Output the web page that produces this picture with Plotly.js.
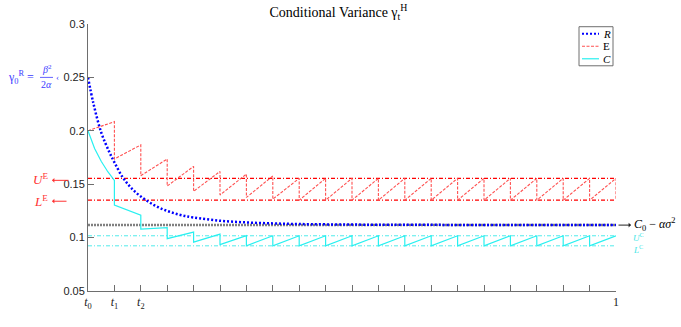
<!DOCTYPE html>
<html>
<head>
<meta charset="utf-8">
<script src="https://cdn.plot.ly/plotly-3.0.1.min.js"></script>
<style>
  html, body { margin: 0; padding: 0; background: #fff; }
  #chart { width: 681px; height: 327px; }
</style>
</head>
<body>
<div id="chart"></div>
<script>
// drop times (every 0.05 up to 1)
var dropT = [0.05, 0.1, 0.15, 0.2, 0.25, 0.3, 0.35, 0.4, 0.45, 0.5,
             0.55, 0.6, 0.65, 0.7, 0.75, 0.8, 0.85, 0.9, 0.95, 1.0];

// R : conditional variance, smooth decay
var rT = [0, 0.01, 0.025, 0.04, 0.05, 0.065, 0.08, 0.1, 0.125, 0.15, 0.175,
          0.2, 0.25, 0.3, 0.35, 0.4, 0.5, 0.6, 0.8, 1.0];
var rV = [0.25, 0.2262, 0.1985, 0.1805, 0.1705, 0.157, 0.1475, 0.1385, 0.1305,
          0.125, 0.1212, 0.1188, 0.1158, 0.1142, 0.1133, 0.1127, 0.1122, 0.112,
          0.1118, 0.1117];

// E : sawtooth, start value then peak / low at each drop time
var eStart = 0.2;
var ePeak = [0.2086, 0.1868, 0.1736, 0.1667, 0.162, 0.1595, 0.1577, 0.1555, 0.1555, 0.1555,
             0.1555, 0.1555, 0.1555, 0.1555, 0.1555, 0.1555, 0.1555, 0.1555, 0.1555, 0.1555];
var eLow  = [0.1736, 0.158, 0.1483, 0.1433, 0.1399, 0.1376, 0.136, 0.135, 0.135, 0.135,
             0.135, 0.135, 0.135, 0.135, 0.135, 0.135, 0.135, 0.135, 0.135, 0.135];

// C : first interval curve, then low (start) / high (end) per interval
var cFirstT = [0, 0.0125, 0.025, 0.0375, 0.05];
var cFirstV = [0.2, 0.1835, 0.1715, 0.1617, 0.1535];
var cLow  = [0.1305, 0.108, 0.099, 0.0958, 0.0935, 0.0923, 0.0923, 0.0923, 0.0923, 0.0923,
             0.0923, 0.0923, 0.0923, 0.0923, 0.0923, 0.0923, 0.0923, 0.0923, 0.0923];
var cHigh = [0.1211, 0.1093, 0.1052, 0.1032, 0.1019, 0.1017, 0.1017, 0.1017, 0.1017, 0.1017,
             0.1017, 0.1017, 0.1017, 0.1017, 0.1017, 0.1017, 0.1017, 0.1017, 0.1017];

// bounds
var UE = 0.1555, LE = 0.135;
var UC = 0.1017, LC = 0.0923;
var C0 = 0.1117;

var xTicks = [0, 0.05, 0.1, 0.15, 0.2, 0.25, 0.3, 0.35, 0.4, 0.45, 0.5,
              0.55, 0.6, 0.65, 0.7, 0.75, 0.8, 0.85, 0.9, 0.95, 1];
var xLabels = ['<i>t</i><sub>0</sub>', '<i>t</i><sub>1</sub>', '<i>t</i><sub>2</sub>',
               ' ', ' ', ' ', ' ', ' ', ' ', ' ', ' ', ' ', ' ', ' ', ' ', ' ', ' ', ' ', ' ', ' ', '1'];
var yTicks = [0.05, 0.1, 0.15, 0.2, 0.25, 0.3];
var yLabels = ['0.05', '0.1', '0.15', '0.2', '0.25', '0.3'];

// series names and colours
var names = ['<i>R</i>', 'E', '<i>C</i>'];
var colR = 'rgb(0,0,255)', colE = 'rgb(255,80,80)', colC = 'rgb(40,240,240)';

// build sawtooth paths
var eX = [0], eY = [eStart];
for (var i = 0; i < dropT.length; i++) {
  eX.push(dropT[i], dropT[i]);
  eY.push(ePeak[i], eLow[i]);
}
var cX = cFirstT.slice(), cY = cFirstV.slice();
for (var j = 0; j < cLow.length; j++) {
  cX.push(dropT[j], dropT[j + 1]);
  cY.push(cLow[j], cHigh[j]);
}

function hline(v, color, dash, width) {
  return {
    x: [0, 1], y: [v, v], type: 'scatter', mode: 'lines', showlegend: false,
    hoverinfo: 'skip', line: {color: color, dash: dash, width: width}
  };
}

var styleR = {color: colR, dash: '2px,2px', width: 2.5};
var styleE = {color: colE, dash: '3px,1.5px', width: 1.1};
var styleC = {color: colC, width: 1.2};

var data = [
  hline(UE, 'rgb(255,0,0)', '4px,2px,1px,2px', 1.2),
  hline(LE, 'rgb(255,0,0)', '4px,2px,1px,2px', 1.2),
  hline(UC, 'rgb(80,235,235)', '4px,2px,1px,2px', 1),
  hline(LC, 'rgb(80,235,235)', '4px,2px,1px,2px', 1),
  hline(C0, 'rgb(128,128,128)', '2px,1px', 2.5),
  {x: rT, y: rV, type: 'scatter', mode: 'lines', name: names[0], showlegend: false,
   line: Object.assign({shape: 'spline'}, styleR)},
  {x: eX, y: eY, type: 'scatter', mode: 'lines', name: names[1], showlegend: false, line: styleE},
  {x: cX, y: cY, type: 'scatter', mode: 'lines', name: names[2], showlegend: false, line: styleC}
];

var serif = 'Liberation Serif, DejaVu Serif, serif';
var blueTxt = 'rgb(60,60,255)';

// pixel -> paper helpers (plot area 88..616 x 24..291)
function px(x) { return (x - 88) / 528; }
function py(y) { return (290.7 - y) / 266.4; }

var shapes = [
  {type: 'line', xref: 'paper', yref: 'y', x0: px(40), x1: px(53), y0: 0.25, y1: 0.25,
   line: {color: blueTxt, width: 0.8}},
  // legend box
  {type: 'rect', xref: 'paper', yref: 'paper', x0: px(579), x1: px(613), y0: py(66), y1: py(27),
   line: {color: 'rgb(110,110,110)', width: 1}, fillcolor: '#fff'}
];
var annotations = [
  {xref: 'paper', yref: 'y', x: px(36), y: 0.25, xanchor: 'right', yanchor: 'middle', showarrow: false,
   text: 'γ<sub>0</sub><sup>R</sup> =', font: {family: serif, size: 12, color: blueTxt}},
  {xref: 'paper', yref: 'y', x: px(46.5), y: 0.25, yshift: 8, xanchor: 'center', yanchor: 'middle', showarrow: false,
   text: '<i>β</i><sup>2</sup>', font: {family: serif, size: 10, color: blueTxt}},
  {xref: 'paper', yref: 'y', x: px(46.5), y: 0.25, yshift: -7, xanchor: 'center', yanchor: 'middle', showarrow: false,
   text: '2<i>α</i>', font: {family: serif, size: 10, color: blueTxt}},
  {xref: 'paper', yref: 'y', x: px(57), y: 0.25, xanchor: 'center', yanchor: 'middle', showarrow: false,
   text: '‹', font: {family: serif, size: 9, color: blueTxt}},
  {xref: 'paper', yref: 'y', x: px(50), y: UE, yshift: -1, xanchor: 'right', yanchor: 'middle', showarrow: false,
   text: '<i>U</i><sup>E</sup>', font: {family: serif, size: 13, color: 'rgb(255,50,50)'}},
  {xref: 'paper', yref: 'y', x: px(52), y: UE, yshift: -2, text: '', showarrow: true,
   ax: 18, ay: 0, arrowhead: 1, arrowsize: 0.8, arrowwidth: 1, arrowcolor: 'rgb(255,50,50)'},
  {xref: 'paper', yref: 'y', x: px(50), y: LE, yshift: -1, xanchor: 'right', yanchor: 'middle', showarrow: false,
   text: '<i>L</i><sup>E</sup>', font: {family: serif, size: 13, color: 'rgb(255,50,50)'}},
  {xref: 'paper', yref: 'y', x: px(52), y: LE, yshift: -1, text: '', showarrow: true,
   ax: 16, ay: 0, arrowhead: 1, arrowsize: 0.8, arrowwidth: 1, arrowcolor: 'rgb(255,50,50)'},
  {xref: 'paper', yref: 'y', x: px(631), y: C0, text: '', showarrow: true,
   ax: -14, ay: 0, arrowhead: 1, arrowsize: 0.8, arrowwidth: 1, arrowcolor: '#222'},
  {xref: 'paper', yref: 'y', x: px(632), y: C0, yshift: 1, xanchor: 'left', yanchor: 'middle', showarrow: false,
   text: '<i>C</i><sub>0</sub> − <i>ασ</i><sup>2</sup>', font: {family: serif, size: 12, color: '#000'}},
  {xref: 'paper', yref: 'y', x: px(631), y: UC, yshift: -1, xanchor: 'left', yanchor: 'middle', showarrow: false,
   text: '<i>U</i><sup>C</sup>', font: {family: serif, size: 9, color: 'rgb(60,230,230)'}},
  {xref: 'paper', yref: 'y', x: px(631), y: LC, yshift: -3, xanchor: 'left', yanchor: 'middle', showarrow: false,
   text: '<i>L</i><sup>C</sup>', font: {family: serif, size: 9, color: 'rgb(60,230,230)'}}
];

// legend keys
var legRows = [34, 46.5, 59];
var legStyles = [styleR, styleE, styleC];
for (var k = 0; k < names.length; k++) {
  shapes.push({type: 'line', xref: 'paper', yref: 'paper',
    x0: px(582), x1: px(599), y0: py(legRows[k]), y1: py(legRows[k]),
    line: {color: legStyles[k].color, dash: legStyles[k].dash || 'solid',
           width: k === 0 ? 2 : legStyles[k].width}});
  annotations.push({xref: 'paper', yref: 'paper', x: px(601), y: py(legRows[k]),
    xanchor: 'left', yanchor: 'middle', showarrow: false, text: names[k],
    font: {family: serif, size: 11, color: '#000'}});
}

var layout = {
  width: 681,
  height: 327,
  margin: {l: 88, r: 65, t: 24, b: 36},
  paper_bgcolor: '#fff',
  plot_bgcolor: '#fff',
  showlegend: false,
  title: {
    text: 'Conditional Variance γ<sub>t</sub><sup>H</sup>',
    font: {family: serif, size: 14, color: '#000'},
    x: 0.497, xref: 'container', y: 0.962, yanchor: 'middle'
  },
  xaxis: {
    range: [0, 1], tickvals: xTicks, ticktext: xLabels,
    ticks: 'inside', ticklen: 6, tickcolor: 'rgb(110,110,110)',
    showline: true, linecolor: 'rgb(110,110,110)', linewidth: 1,
    showgrid: false, zeroline: false,
    tickfont: {family: serif, size: 12, color: '#222'}
  },
  yaxis: {
    range: [0.05, 0.3], tickvals: yTicks, ticktext: yLabels,
    ticks: 'inside', ticklen: 6, tickcolor: 'rgb(110,110,110)',
    showline: true, linecolor: 'rgb(110,110,110)', linewidth: 1,
    showgrid: false, zeroline: false,
    tickfont: {family: 'Liberation Sans, Arial, sans-serif', size: 11, color: '#222'}
  },
  shapes: shapes,
  annotations: annotations
};

Plotly.newPlot('chart', data, layout, {displayModeBar: false, staticPlot: true});
</script>
</body>
</html>
